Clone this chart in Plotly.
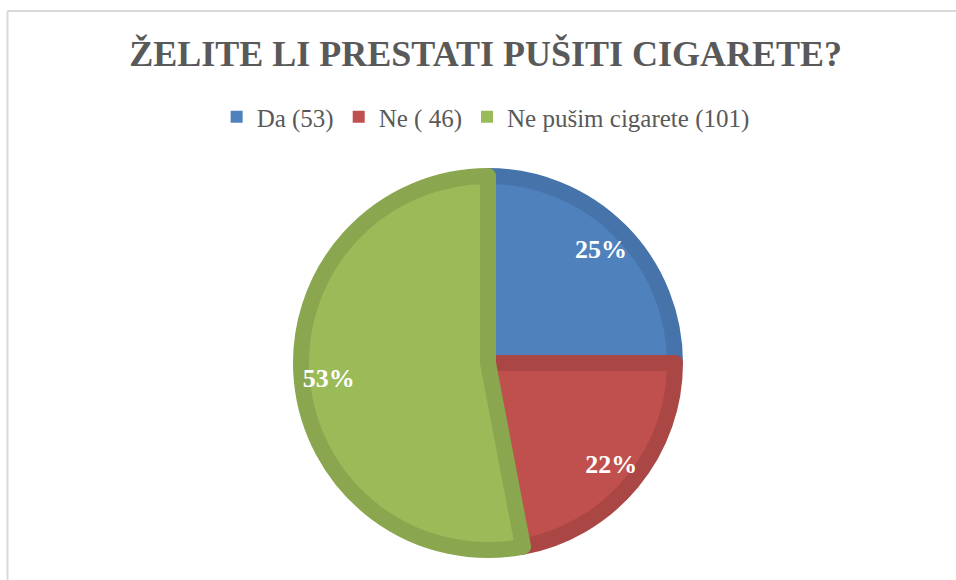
import plotly.graph_objects as go

labels = ["Da (53)", "Ne ( 46)", "Ne pušim cigarete (101)"]
values = [25, 22, 53]
fill_colors = ["#4F81BD", "#C0504D", "#9BBB59"]
edge_colors = ["#4673A9", "#AA4744", "#8AA74F"]

SERIF = "Liberation Serif, Times New Roman, serif"
W, H = 956, 580

# pie geometry (px): center and outer radius incl. border
cx, cy, R = 488, 363, 195
lw = 16
r0 = R - lw / 2


def domain(r):
    return dict(x=[(cx - r) / W, (cx + r) / W], y=[(H - cy - r) / H, (H - cy + r) / H])


slices = go.Pie(
    labels=labels,
    values=values,
    sort=False,
    direction="clockwise",
    rotation=0,
    domain=domain(r0),
    marker=dict(colors=fill_colors, line=dict(color=edge_colors, width=lw)),
    textinfo="none",
    hoverinfo="label+percent",
    showlegend=False,
)

# transparent, slightly larger ring on top, only to put the % labels near the rim
ring_r = 205
pct_labels = go.Pie(
    labels=labels,
    values=values,
    sort=False,
    direction="clockwise",
    rotation=0,
    hole=0.56,
    domain=domain(ring_r),
    marker=dict(colors=["rgba(0,0,0,0)"] * 3),
    texttemplate="%{percent:.0%}",
    textposition="inside",
    insidetextorientation="horizontal",
    textfont=dict(family=SERIF, size=26, color="white", weight="bold"),
    showlegend=False,
    hoverinfo="skip",
)

# invisible copy that only feeds the legend flat, borderless swatches
legend_only = go.Pie(
    labels=labels,
    values=values,
    sort=False,
    domain=dict(x=[0, 0.0002], y=[0, 0.0002]),
    marker=dict(colors=fill_colors, line=dict(width=0)),
    textinfo="none",
    hoverinfo="skip",
)

fig = go.Figure(data=[slices, pct_labels, legend_only])
fig.update_layout(
    width=W,
    height=H,
    margin=dict(l=0, r=0, t=0, b=0),
    paper_bgcolor="white",
    plot_bgcolor="white",
    title=dict(
        text="<b>ŽELITE LI PRESTATI PUŠITI CIGARETE?</b>",
        x=0.508,
        xanchor="center",
        y=1 - 53 / H,
        yanchor="middle",
        font=dict(family=SERIF, size=36, color="#595959"),
    ),
    legend=dict(
        orientation="h",
        x=0.508,
        xanchor="center",
        y=1 - 117 / H,
        yanchor="middle",
        font=dict(family=SERIF, size=25, color="#595959"),
        itemclick=False,
    ),
    showlegend=True,
    shapes=[
        dict(type="line", xref="paper", yref="paper",
             x0=7.5 / W, x1=1, y0=1 - 11 / H, y1=1 - 11 / H,
             line=dict(color="#d9d9d9", width=2)),
        dict(type="line", xref="paper", yref="paper",
             x0=7.5 / W, x1=7.5 / W, y0=0, y1=1 - 11 / H,
             line=dict(color="#d9d9d9", width=2)),
    ],
)

# drop the default body margin so the figure sits at the window's top-left
fig.write_html(
    "out.html",
    config={"displayModeBar": False},
    post_script="document.body.style.margin='0';",
)
